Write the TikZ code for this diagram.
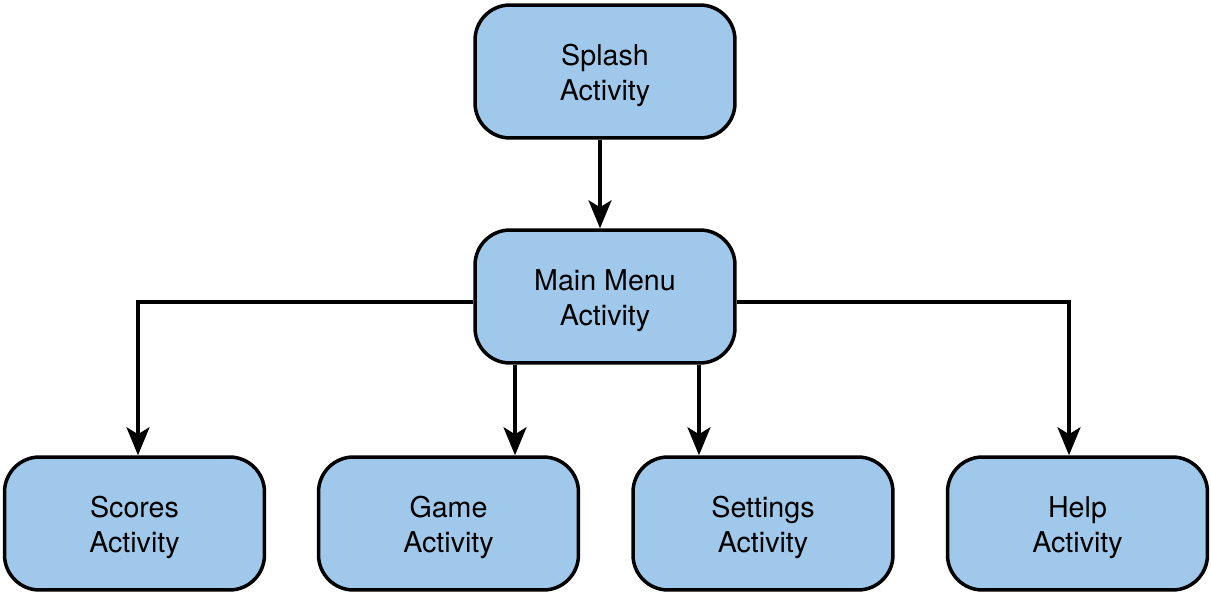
\documentclass[tikz,border=0pt]{standalone}
\usepackage{fontspec}
\setmainfont{TeX Gyre Heros}
\usepackage{tikz}
\usetikzlibrary{arrows.meta}
\definecolor{boxblue}{RGB}{160,200,234}

\begin{document}
\begin{tikzpicture}[
x=0.02cm, y=-0.02cm,
box/.style={rectangle, draw, line width=0.07cm, fill=boxblue, minimum width=5.2cm, minimum height=2.66cm, align=center, rounded corners=0.7cm, font=\fontsize{16.3}{19.8}\selectfont},
arrow/.style={-{Stealth[length=0.56cm, width=0.46cm, inset=0.14cm]}, line width=0.07cm}
]
\useasboundingbox (0,0) rectangle (1211,595);

% top
\node[box] (splash) at (605,71.5) {\\[-0.12cm]Splash\\Activity};
\node[box] (main) at (605,296.5) {\\[-0.12cm]Main Menu\\Activity};

% bottom row
\node[box] (scores) at (134.5,523.5) {\\[-0.12cm]Scores\\Activity};
\node[box] (game) at (448.5,523.5) {\\[-0.12cm]Game\\Activity};
\node[box] (settings) at (763,523.5) {\\[-0.12cm]Settings\\Activity};
\node[box] (help) at (1077.5,523.5) {\\[-0.12cm]Help\\Activity};

\draw[arrow] ([xshift=-0.1cm]splash.south) -- ([xshift=-0.1cm]main.north);
\draw[arrow] ([yshift=-0.11cm]main.west) -| ([xshift=0.07cm]scores.north);
\draw[arrow] ([xshift=-1.8cm]main.south) -- ([xshift=-1.8cm]main.south |- game.north);
\draw[arrow] ([xshift=1.88cm]main.south) -- ([xshift=1.88cm]main.south |- settings.north);
\draw[arrow] ([yshift=-0.11cm]main.east) -| ([xshift=-0.17cm]help.north);

\end{tikzpicture}
\end{document}
